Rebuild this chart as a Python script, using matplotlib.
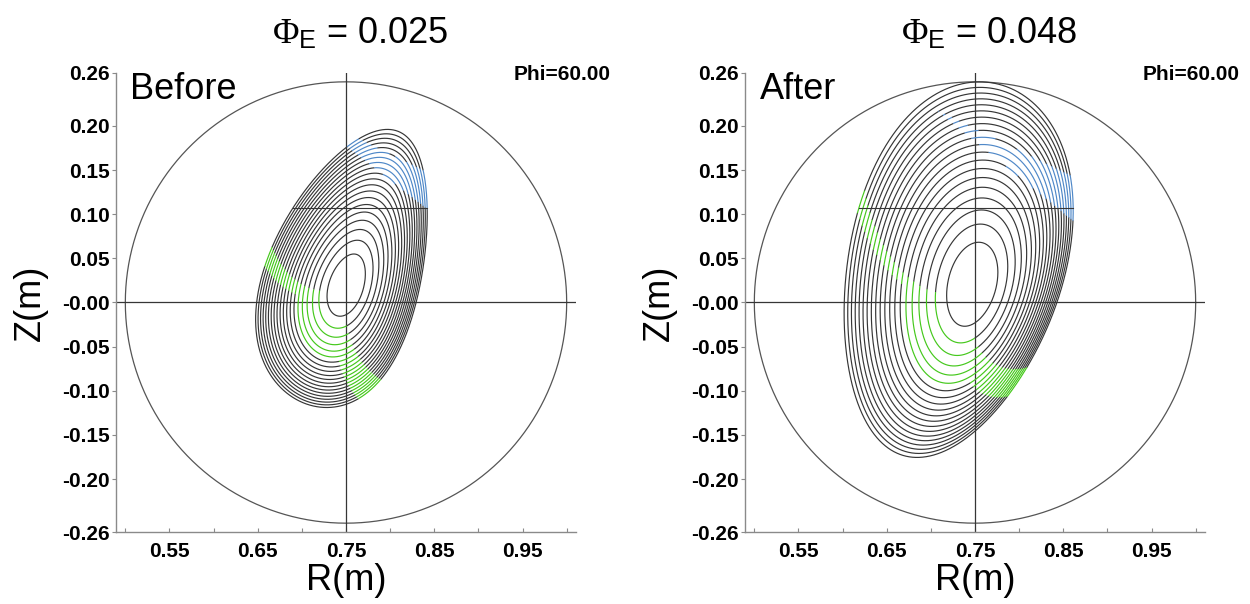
import numpy as np
import matplotlib
matplotlib.use('Agg')
import matplotlib.pyplot as plt

plt.rcParams['font.family'] = ['Liberation Sans', 'DejaVu Sans']
plt.rcParams['mathtext.fontset'] = 'custom'
plt.rcParams['mathtext.rm'] = 'Liberation Serif'
plt.rcParams['mathtext.sf'] = 'Liberation Sans'
plt.rcParams['mathtext.it'] = 'Liberation Serif:italic'

# ---------------- data ----------------
panel_labels = ['Before', 'After']
phi_e_values = ['0.025', '0.048']
phi_text = 'Phi=60.00'
x_ticks = [0.50, 0.55, 0.60, 0.65, 0.70, 0.75, 0.80, 0.85, 0.90, 0.95, 1.00]
x_tick_labels = ['', '0.55', '', '0.65', '', '0.75', '', '0.85', '', '0.95', '']
y_ticks = [-0.26, -0.20, -0.15, -0.10, -0.05, 0.0, 0.05, 0.10, 0.15, 0.20, 0.26]
y_tick_labels = ['-0.26', '-0.20', '-0.15', '-0.10', '-0.05', '-0.00',
                 '0.05', '0.10', '0.15', '0.20', '0.26']

# normalised flux of the drawn surfaces (innermost -> edge)
psi_levels = [0.05, 0.10, 0.15, 0.20, 0.25, 0.30, 0.35, 0.40, 0.45, 0.50,
              0.55, 0.60, 0.65, 0.70, 0.75, 0.80, 0.85, 0.90, 0.95, 1.00]

# magnetic axis (m)
axis_R = [0.7505, 0.7477]
axis_Z = [0.0187, 0.0198]
# outermost surface shape: centre, half-width, half-height, triangularity, shears
edge_R = [0.7444, 0.7315]
edge_Z = [0.0309, 0.0444]
edge_halfwidth = [0.0962, 0.1297]
edge_halfheight = [0.1534, 0.2027]
edge_triangularity = [-0.2234, 0.1222]
edge_shear_R = [0.0848, -0.0209]
edge_shear_Z = [0.3795, 0.5002]

# green arcs (poloidal angle around the axis, deg)
green_rho_start = [0.30, 0.30]
green_rho_split = [0.56, 0.56]
green_lo = [(191.0, 152.5), (192.0, 139.0)]
green_hi = [(270.0, 290.0), (271.0, 303.0)]
green_arm_width = [(14.0, 14.0), (9.0, 16.0)]
# blue arcs: between two straight edges (normal angle deg, distance from axis m)
blue_inner = [(52.0, 0.125), (51.0, 0.128)]
blue_outer = [(64.0, 0.156), (64.0, 0.160)]

chord_Z = [0.107, 0.107]
wall_R, wall_Z, wall_radius = 0.75, 0.0, 0.25

line_col = '#363636'
green_col = '#45c81c'
blue_col = '#4f88c8'


def surface(k, t, rho):
    Rc = axis_R[k] + (edge_R[k] - axis_R[k]) * rho ** 2
    Zc = axis_Z[k] + (edge_Z[k] - axis_Z[k]) * rho ** 2
    x0 = edge_halfwidth[k] * rho * np.cos(t + edge_triangularity[k] * rho * np.sin(t))
    z0 = edge_halfheight[k] * rho * np.sin(t)
    return Rc + x0 + edge_shear_R[k] * z0, Zc + z0 + edge_shear_Z[k] * x0


fig = plt.figure(figsize=(12.5, 6.04), dpi=100)
W, H = 1250, 604
ax_left_px = [116, 745]
ax_w_px, ax_top_px, ax_bot_px = 460, 73, 532


def draw_segments(ax, R, Z, mask, color, lw):
    m = mask.copy()
    m[1:] |= mask[:-1]
    m[:-1] |= mask[1:]
    ax.plot(np.where(m, R, np.nan), np.where(m, Z, np.nan), color=color,
            lw=lw, solid_capstyle='butt')


def lin(pair, f):
    return pair[0] + (pair[1] - pair[0]) * f


for k in range(2):
    ax = fig.add_axes([ax_left_px[k] / W, (H - ax_bot_px) / H,
                       ax_w_px / W, (ax_bot_px - ax_top_px) / H])
    ax.set_xlim(0.49, 1.01)
    ax.set_ylim(-0.26, 0.26)
    ax.set_aspect('equal', adjustable='box')
    for side in ['top', 'right']:
        ax.spines[side].set_visible(False)
    for side in ['left', 'bottom']:
        ax.spines[side].set_color('#8a8a8a')
        ax.spines[side].set_linewidth(1.0)

    tt = np.linspace(0, 2 * np.pi, 721)
    ax.plot(wall_R + wall_radius * np.cos(tt), wall_Z + wall_radius * np.sin(tt),
            color='#555555', lw=0.9)
    ax.axhline(0.0, color=line_col, lw=0.9)
    ax.axvline(0.75, color=line_col, lw=0.9)

    t = np.linspace(0, 2 * np.pi, 2161)
    n1 = np.radians(blue_inner[k][0]); n2 = np.radians(blue_outer[k][0])
    for psi in psi_levels:
        rho = np.sqrt(psi)
        R, Z = surface(k, t, rho)
        dR, dZ = R - axis_R[k], Z - axis_Z[k]
        phi = np.degrees(np.arctan2(dZ, dR)) % 360
        f = np.clip((rho - green_rho_start[k]) / (1 - green_rho_start[k]), 0, 1)
        lo, hi = lin(green_lo[k], f), lin(green_hi[k], f)
        if rho < green_rho_start[k]:
            g = np.zeros_like(phi, bool)
        elif rho <= green_rho_split[k]:
            g = (phi > lo) & (phi < hi)
        else:
            g = (((phi > lo) & (phi < lo + green_arm_width[k][0])) |
                 ((phi < hi) & (phi > hi - green_arm_width[k][1])))
        b = ((dR * np.cos(n1) + dZ * np.sin(n1) > blue_inner[k][1]) &
             (dR * np.cos(n2) + dZ * np.sin(n2) < blue_outer[k][1]))
        grey = ~(g | b)
        draw_segments(ax, R, Z, grey, line_col, 0.85)
        draw_segments(ax, R, Z, g & ~grey, green_col, 0.85)
        draw_segments(ax, R, Z, b & ~grey, blue_col, 0.85)

    # horizontal chord across the outermost surface
    Re, Ze = surface(k, t, 1.0)
    sgn = np.sign(Ze - chord_Z[k])
    idx = np.where(np.diff(sgn) != 0)[0]
    xs = [Re[i] + (chord_Z[k] - Ze[i]) / (Ze[i + 1] - Ze[i]) * (Re[i + 1] - Re[i]) for i in idx]
    if len(xs) >= 2:
        ax.plot([min(xs), max(xs)], [chord_Z[k]] * 2, color=line_col, lw=0.8)

    ax.set_xticks(x_ticks)
    ax.set_xticklabels(x_tick_labels, fontsize=15, fontweight='bold')
    ax.set_yticks(y_ticks)
    ax.set_yticklabels(y_tick_labels, fontsize=15, fontweight='bold')
    ax.tick_params(axis='x', direction='in', length=3, color='#8a8a8a', pad=7)
    ax.tick_params(axis='y', direction='out', length=3, color='#8a8a8a', pad=2)

    hpx = ax_bot_px - ax_top_px
    ax.text(0.53, 1 + 29 / hpx, r'$\Phi_{\mathsf{E}}$ = ' + phi_e_values[k],
            transform=ax.transAxes, ha='center', va='baseline', fontsize=26)
    ax.text(14 / ax_w_px, 1 - 26 / hpx, panel_labels[k], transform=ax.transAxes,
            ha='left', va='baseline', fontsize=26)
    ax.text(1 + 35 / ax_w_px, 1 - 7 / hpx, phi_text, transform=ax.transAxes,
            ha='right', va='baseline', fontsize=15, fontweight='bold')
    ax.text(0.5, -58 / hpx, 'R(m)', transform=ax.transAxes, ha='center',
            va='baseline', fontsize=26)
    ax.text(-86 / ax_w_px, 0.5, 'Z(m)', transform=ax.transAxes, ha='center',
            va='center', rotation=90, fontsize=26)

fig.savefig('out.png', dpi=100)
